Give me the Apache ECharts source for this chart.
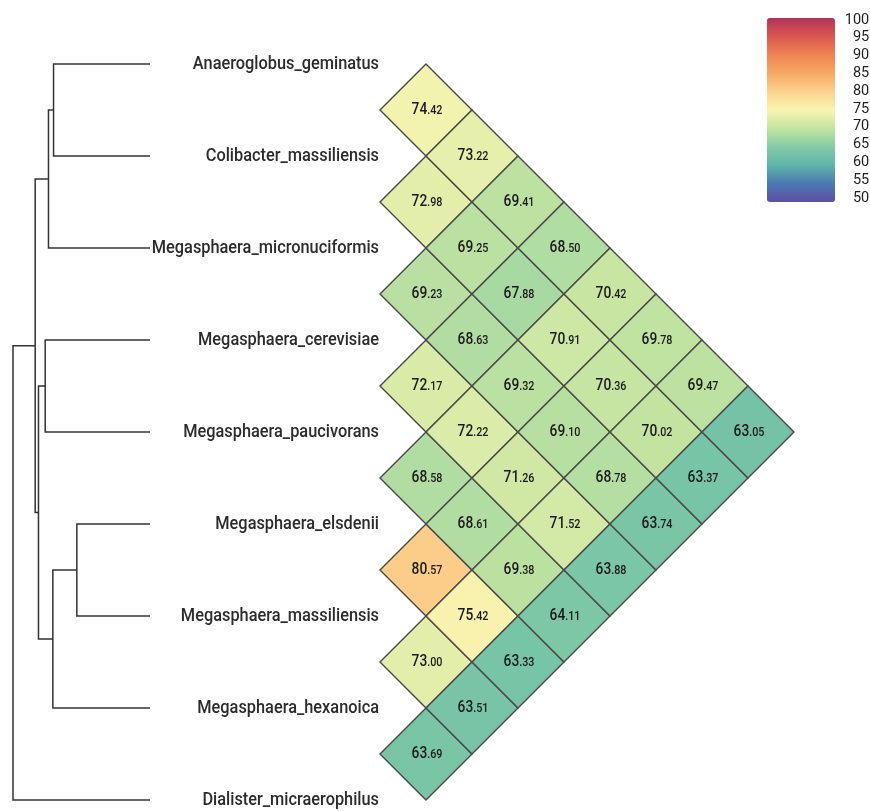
<!DOCTYPE html>
<html><head><meta charset="utf-8">
<script src="https://cdn.jsdelivr.net/npm/echarts@6/dist/echarts.min.js"></script>
<style>html,body{margin:0;padding:0;background:#fff}#c{width:870px;height:811px}</style>
</head><body><div id="c"></div>
<script>
// ---- data ----
const taxa = ['Anaeroglobus_geminatus','Colibacter_massiliensis','Megasphaera_micronuciformis',
  'Megasphaera_cerevisiae','Megasphaera_paucivorans','Megasphaera_elsdenii',
  'Megasphaera_massiliensis','Megasphaera_hexanoica','Dialister_micraerophilus'];
// hclust-style merges: [childA, childB, height]; negative = leaf (1-based), positive = merge row (1-based)
const merges = [
  [-1, -2, 0.704],
  [-4, -5, 0.765],
  [-6, -7, 0.534],
  [1, -3, 0.741],
  [3, -8, 0.709],
  [2, 5, 0.814],
  [4, 6, 0.838],
  [7, -9, 1.0]
];
// pairwise values by diagonal: diagK[i] = value for pair (taxon i, taxon i+K)
const diag1 = [74.42, 72.98, 69.23, 72.17, 68.58, 80.57, 73.00, 63.69];
const diag2 = [73.22, 69.25, 68.63, 72.22, 68.61, 75.42, 63.51];
const diag3 = [69.41, 67.88, 69.32, 71.26, 69.38, 63.33];
const diag4 = [68.50, 70.91, 69.10, 71.52, 64.11];
const diag5 = [70.42, 70.36, 68.78, 63.88];
const diag6 = [69.78, 70.02, 63.74];
const diag7 = [69.47, 63.37];
const diag8 = [63.05];
const colorMin = 50, colorMax = 100, colorStep = 5;
// colour ramp from 50 (bottom) to 100 (top), one colour every 5 units
const palette = ['#5e4fa2','#4b79b3','#5eb5a8','#84cba5','#c3e4a1','#f9f5b2','#fbd28e','#f7a866','#ef8452','#d9574f','#b3325a'];

// ---- build ----
const diags = [diag1, diag2, diag3, diag4, diag5, diag6, diag7, diag8];
const cells = [];
diags.forEach((d, k) => d.forEach((v, i) => cells.push([i, i + k + 1, v])));

const nodeY = [], nodeH = [];
function pos(id) { return id < 0 ? { y: -id - 1, h: 0 } : { y: nodeY[id - 1], h: nodeH[id - 1] }; }
const dendroPaths = [];
merges.forEach((m, k) => {
  const a = pos(m[0]), b = pos(m[1]);
  nodeY[k] = (a.y + b.y) / 2; nodeH[k] = m[2];
  dendroPaths.push([[a.h, a.y], [m[2], a.y], [m[2], b.y], [b.h, b.y]]);
});

const chart = echarts.init(document.getElementById('c'), null, { renderer: 'canvas' });
const hidden = { show: false };
chart.setOption({
  animation: false,
  backgroundColor: '#fff',
  grid: [
    { left: 13, top: 64, width: 137, height: 736 },
    { left: 380, top: 64, width: 414, height: 736 },
    { left: 835, top: 20, width: 1, height: 178 }
  ],
  xAxis: [
    { gridIndex: 0, type: 'value', min: 0, max: 1, inverse: true, ...hidden },
    { gridIndex: 1, type: 'value', min: 0, max: 4.5, ...hidden },
    { gridIndex: 2, type: 'value', min: 0, max: 1, ...hidden }
  ],
  yAxis: [
    { gridIndex: 0, type: 'value', min: 0, max: 8, inverse: true, ...hidden },
    { gridIndex: 1, type: 'value', min: 0, max: 8, inverse: true, ...hidden },
    { gridIndex: 2, type: 'value', min: colorMin, max: colorMax, interval: colorStep, position: 'right',
      axisLine: { show: false }, axisTick: { show: false }, splitLine: { show: false },
      axisLabel: { show: true, align: 'right', margin: 34, fontSize: 14.5, fontFamily: 'Roboto', color: '#1e1e1e' } }
  ],
  visualMap: {
    type: 'continuous', min: colorMin, max: colorMax, seriesIndex: 1, dimension: 2,
    inRange: { color: palette }, calculable: false, orient: 'vertical',
    left: 767, top: 18, itemWidth: 68, itemHeight: 184, padding: 0, text: null, showLabel: false
  },
  series: [
    {
      type: 'custom', xAxisIndex: 0, yAxisIndex: 0, silent: true,
      data: dendroPaths.map(p => [p[1][0], (p[1][1] + p[2][1]) / 2]),
      renderItem: (params, api) => {
        const pts = dendroPaths[params.dataIndex].map(p => api.coord(p));
        return { type: 'polyline', shape: { points: pts }, style: { stroke: '#333', lineWidth: 1.5, fill: null } };
      }
    },
    {
      type: 'custom', xAxisIndex: 1, yAxisIndex: 1, silent: true,
      data: cells,
      encode: { x: 0, y: 1 },
      renderItem: (params, api) => {
        const i = api.value(0), j = api.value(1), v = api.value(2);
        const cx = (j - i) / 2, cy = (i + j) / 2;
        const pts = [[cx, cy - 0.5], [cx + 0.5, cy], [cx, cy + 0.5], [cx - 0.5, cy]].map(p => api.coord(p));
        const c = api.coord([cx, cy]);
        const parts = v.toFixed(2).split('.');
        return { type: 'group', children: [
          { type: 'polygon', shape: { points: pts }, style: { fill: api.visual('color'), stroke: '#474747', lineWidth: 1.4 } },
          { type: 'text', x: c[0] + 1, y: c[1], scaleX: 0.86, style: {
            text: '{a|' + parts[0] + '}{b|.' + parts[1] + '}',
            align: 'center', verticalAlign: 'middle', textAlign: 'center', textVerticalAlign: 'middle',
            rich: {
              a: { fontSize: 16, fontFamily: 'Roboto', fontWeight: 500, fill: '#1a1a1a', color: '#1a1a1a', lineHeight: 16, verticalAlign: 'bottom' },
              b: { fontSize: 12.5, fontFamily: 'Roboto', fontWeight: 500, fill: '#1a1a1a', color: '#1a1a1a', lineHeight: 16, verticalAlign: 'bottom', padding: [0, 0, 1, 0] }
            } } }
        ] };
      }
    },
    {
      type: 'custom', xAxisIndex: 1, yAxisIndex: 1, silent: true,
      data: taxa.map((t, i) => [0, i]),
      renderItem: (params, api) => {
        const p = api.coord([api.value(0), api.value(1)]);
        return { type: 'text', x: p[0] - 1, y: p[1] + 0.5, scaleX: 0.86, style: {
          text: taxa[params.dataIndex], align: 'right', verticalAlign: 'middle',
          textAlign: 'right', textVerticalAlign: 'middle',
          fontSize: 19, fontFamily: 'Roboto', fontWeight: 500, fill: '#2b2b2b' } };
      }
    }
  ]
});
</script></body></html>
